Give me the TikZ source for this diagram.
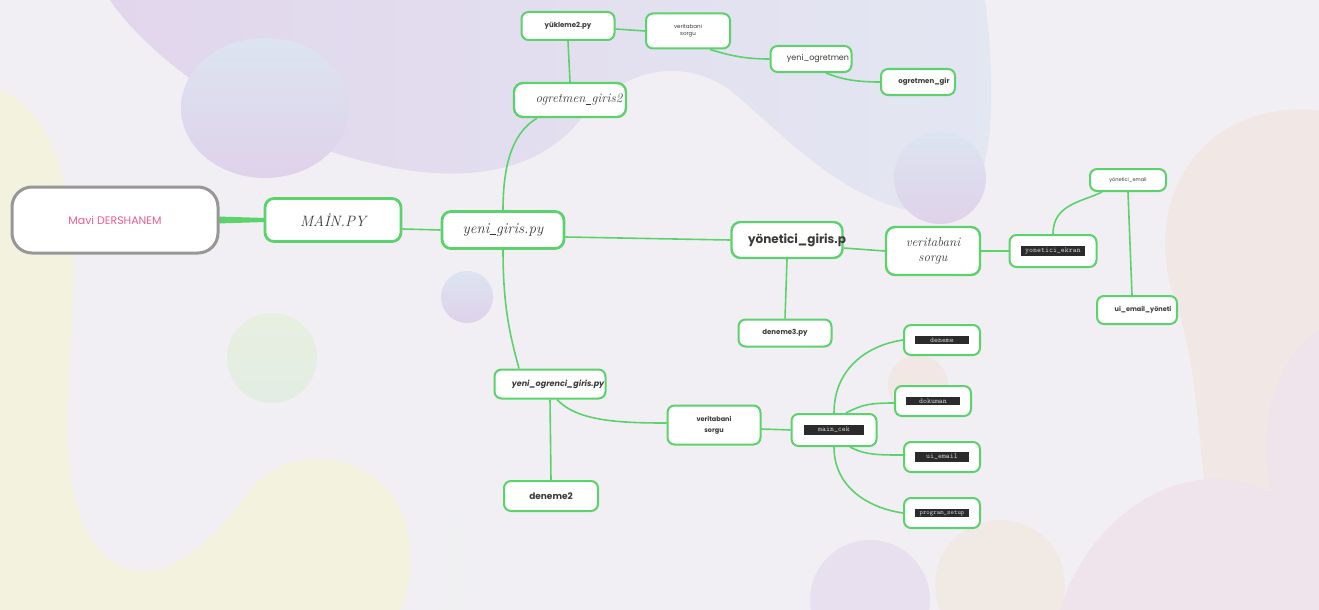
\documentclass[tikz,border=0pt]{standalone}
\usepackage{fontspec}
\newfontfamily\pop{Poppins}
\usetikzlibrary{calc}
\pgfdeclarelayer{back}
\pgfdeclarelayer{edges}
\pgfsetlayers{back,edges,main}
\definecolor{bgc}{HTML}{F1EFF3}
\definecolor{gr}{HTML}{5CD26C}
\definecolor{mgray}{HTML}{979797}
\definecolor{pinktxt}{HTML}{EE5C8E}
\definecolor{txt}{HTML}{3A3A3A}
\definecolor{hlbg}{HTML}{2B2B2B}
\definecolor{hltx}{HTML}{D0D0D0}
\definecolor{lavA}{HTML}{E2D6EC}
\definecolor{blueA}{HTML}{E3E7F2}
\definecolor{yel}{HTML}{F3F2DF}
\definecolor{peach}{HTML}{F1E7E5}
\definecolor{rose}{HTML}{EFE4EB}
\definecolor{cTop}{HTML}{DCE4F1}
\definecolor{cBot}{HTML}{DFD2EA}
\definecolor{gTop}{HTML}{E6EFE0}
\definecolor{gBot}{HTML}{E4EDE3}
\newcommand\fx[1]{\makebox[0pt][c]{#1}}
\newcommand\usc{\kern0.3pt\rule[-1.6pt]{0.42em}{0.5pt}\kern0.3pt}
\newcommand\hlbox[2]{{\setlength{\fboxsep}{1.8pt}\colorbox{hlbg}{\makebox[#1][c]{\color{hltx}\ttfamily\fontsize{7.5}{8}\selectfont #2}}}}
\begin{document}
\begin{tikzpicture}[x=1pt,y=-1pt,
  box/.style={draw=gr, line width=2.4pt, fill=white, rounded corners=9pt, inner sep=0pt, align=center, text=txt},
  sbox/.style={box, line width=2pt, rounded corners=7pt},
  conn/.style={draw=gr, line width=1.6pt}]
\useasboundingbox (0,0) rectangle (1319,610);
\begin{pgfonlayer}{back}
\begin{scope}
\clip (0,0) rectangle (1319,610);
\fill[bgc] (0,0) rectangle (1319,610);
% top lavender / blue wave
\shade[left color=lavA, right color=blueA] (110,0) .. controls (150,60) and (260,140) .. (380,165) .. controls (470,185) and (540,170) .. (580,120) .. controls (620,70) and (680,55) .. (730,90) .. controls (790,140) and (850,210) .. (940,215) .. controls (990,215) and (1000,120) .. (985,0) -- cycle;
% yellow left
\fill[yel] (0,90) .. controls (55,110) and (80,200) .. (72,320) .. controls (65,430) and (60,520) .. (110,560) .. controls (150,590) and (200,560) .. (250,490) .. controls (290,440) and (380,450) .. (405,520) .. controls (415,560) and (410,590) .. (400,610) -- (0,610) -- cycle;
% gray shadow bottom
\fill[black!6,opacity=0.6] (430,470) .. controls (470,520) and (485,570) .. (470,610) -- (440,610) .. controls (450,560) and (445,510) .. (430,470) -- cycle;
% right peach
\fill[peach] (1319,110) .. controls (1200,100) and (1140,200) .. (1175,300) .. controls (1210,400) and (1190,520) .. (1240,610) -- (1319,610) -- cycle;
\fill[rose] (1319,330) .. controls (1270,360) and (1250,450) .. (1280,520) .. controls (1300,560) and (1319,560) .. (1319,560) -- cycle;
% bottom right
\fill[rose] (1060,610) .. controls (1080,540) and (1150,470) .. (1230,480) .. controls (1290,490) and (1319,520) .. (1319,540) -- (1319,610) -- cycle;
\fill[lavA!60!bgc] (870,600) circle[radius=60];
\fill[peach!80!yel] (1000,585) circle[radius=65];
\fill[peach] (918,385) circle[radius=30];
% circles
\shade[top color=cTop, bottom color=cBot] (265,108) ellipse[x radius=84, y radius=70];
\shade[top color=cTop, bottom color=cBot] (940,178) circle[radius=46];
\shade[top color=cTop, bottom color=cBot] (467,297) circle[radius=26];
\shade[top color=gTop, bottom color=gBot] (272,358) circle[radius=45];
\end{scope}
\end{pgfonlayer}

% nodes
\node[box, draw=mgray, line width=3pt, rounded corners=20pt, minimum width=206pt, minimum height=66pt, font=\pop\fontsize{11}{13}\selectfont, text=pinktxt] (mavi) at (115,220) {Mavi DERSHANEM};
\node[box, line width=2.8pt, minimum width=136pt, minimum height=43pt, font=\itshape\fontsize{15}{17}\selectfont] (main) at (333,220) {MAİN.PY};
\node[box, line width=2.8pt, minimum width=122pt, minimum height=37pt, font=\itshape\fontsize{15}{17}\selectfont] (yg) at (503,230) {yeni\usc giris.py};
\node[box, minimum width=112pt, minimum height=34pt, font=\itshape\fontsize{13}{15}\selectfont] (og) at (570,100) {\fx{\hspace{18pt}ogretmen\usc giris2}};
\node[sbox, minimum width=93pt, minimum height=28pt, font=\pop\bfseries\fontsize{7}{8}\selectfont] (yk) at (568,26) {yükleme2.py};
\node[sbox, minimum width=84pt, minimum height=35pt, font=\pop\fontsize{5.5}{7}\selectfont] (vt1) at (688,31) {veritabani\\sorgu};
\node[sbox, minimum width=81pt, minimum height=26pt, font=\pop\fontsize{8}{9}\selectfont] (yo) at (811,59) {\fx{\hspace{14pt}yeni\_ogretmen}};
\node[sbox, minimum width=74pt, minimum height=26pt, font=\pop\bfseries\fontsize{7}{8}\selectfont] (og2) at (918,82) {\fx{\hspace{12pt}ogretmen\_gir}};
\node[box, minimum width=111pt, minimum height=36pt, font=\pop\bfseries\fontsize{12}{14}\selectfont] (yn) at (787,240) {\fx{\hspace{20pt}yönetici\_giris.p}};
\node[box, minimum width=94pt, minimum height=48pt, font=\itshape\fontsize{13}{15}\selectfont] (vt2) at (933,251) {veritabani\\sorgu};
\node[sbox, minimum width=87pt, minimum height=32pt] (ye) at (1053,251) {\hlbox{60pt}{yonetici\_ekran}};
\node[sbox, minimum width=76pt, minimum height=22pt, font=\pop\fontsize{5}{6}\selectfont] (yem) at (1128,180) {yönetici\_email};
\node[sbox, minimum width=80pt, minimum height=28pt, font=\pop\bfseries\fontsize{6.5}{8}\selectfont] (ui) at (1137,310) {\fx{\hspace{12pt}ui\_email\_yöneti}};
\node[sbox, minimum width=93pt, minimum height=27pt, font=\pop\bfseries\fontsize{7}{8}\selectfont] (d3) at (785,333) {deneme3.py};
\node[sbox, minimum width=111pt, minimum height=29pt, font=\pop\bfseries\itshape\fontsize{8}{9}\selectfont] (yog) at (550,384) {\fx{\hspace{16pt}yeni\_ogrenci\_giris.py}};
\node[sbox, minimum width=94pt, minimum height=30pt, font=\pop\bfseries\fontsize{9}{10}\selectfont] (d2) at (551,496) {deneme2};
\node[sbox, minimum width=93pt, minimum height=39pt, font=\pop\bfseries\fontsize{6.5}{11}\selectfont] (vt3) at (714,425) {veritabani\\sorgu};
\node[sbox, minimum width=85pt, minimum height=32pt] (mc) at (834,430) {\hlbox{56pt}{main\_cek}};
\node[sbox, minimum width=76pt, minimum height=30pt] (dn) at (942,340) {\hlbox{50pt}{deneme}};
\node[sbox, minimum width=76pt, minimum height=30pt] (dk) at (933,401) {\hlbox{50pt}{dokuman}};
\node[sbox, minimum width=76pt, minimum height=30pt] (ue) at (942,457) {\hlbox{50pt}{ui\_email}};
\node[sbox, minimum width=76pt, minimum height=30pt] (ps) at (942,513) {\hlbox{50pt}{\fontsize{6.5}{7}\selectfont program\_setup}};

% connectors
\begin{pgfonlayer}{edges}
\fill[gr] ($(mavi.east)+(-2,-3.5)$) -- ($(main.west)+(2,-2)$) -- ($(main.west)+(2,2)$) -- ($(mavi.east)+(-2,3.5)$) -- cycle;
\draw[conn] ($(main.east)+(0,9)$) -- (yg.west);
\draw[conn] (yg.north) .. controls +(0,-55) and +(-20,12) .. ($(og.south)+(-33,0)$);
\draw[conn] (og.north) -- (yk.south);
\draw[conn] ($(yk.east)+(0,3)$) -- (vt1.west);
\draw[conn] ($(vt1.south)+(22,0)$) .. controls +(20,6) and +(-25,0) .. (yo.west);
\draw[conn] ($(yo.south)+(15,0)$) .. controls +(15,6) and +(-25,0) .. (og2.west);
\draw[conn] ($(yg.east)+(0,7)$) -- (yn.west);
\draw[conn] ($(yn.east)+(0,8)$) -- (vt2.west);
\draw[conn] (yn.south) -- (d3.north);
\draw[conn] (vt2.east) -- (ye.west);
\draw[conn] (ye.north) .. controls +(0,-30) and +(-20,10) .. ($(yem.south)+(-26,0)$);
\draw[conn] (yem.south) -- ($(ui.north)+(-5,0)$);
\draw[conn] (yg.south) .. controls +(0,60) and +(-8,-30) .. ($(yog.north)+(-31,0)$);
\draw[conn] (yog.south) -- (d2.north);
\draw[conn] ($(yog.south)+(7,0)$) .. controls +(20,22) and +(-45,0) .. ($(vt3.west)+(0,-2)$);
\draw[conn] ($(vt3.east)+(0,4)$) -- (mc.west);
\draw[conn] (mc.north) .. controls +(0,-45) and +(-35,5) .. (dn.west);
\draw[conn] ($(mc.north)+(12,0)$) .. controls +(15,-8) and +(-25,0) .. ($(dk.west)+(0,2)$);
\draw[conn] ($(mc.south)+(16,0)$) .. controls +(15,8) and +(-25,0) .. ($(ue.west)+(0,-2)$);
\draw[conn] (mc.south) .. controls +(0,40) and +(-35,-5) .. (ps.west);
\end{pgfonlayer}
\end{tikzpicture}
\end{document}
